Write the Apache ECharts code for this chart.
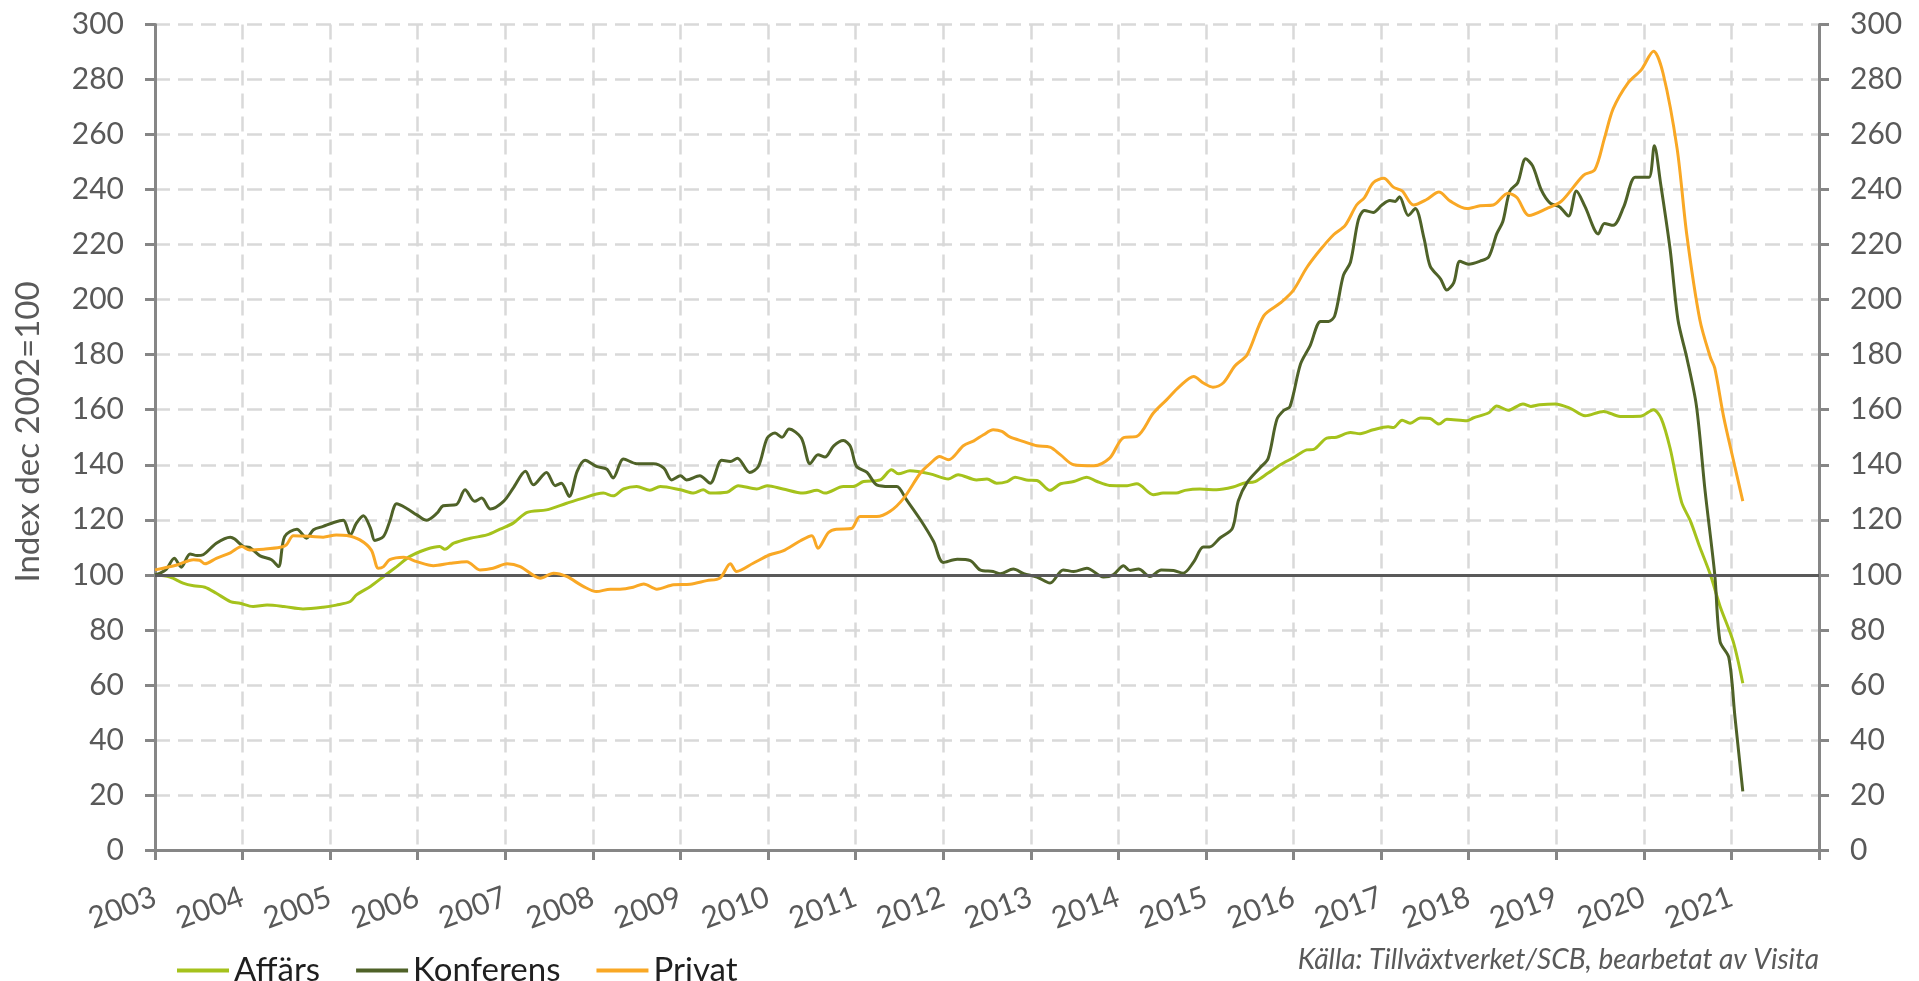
<!DOCTYPE html>
<html>
<head>
<meta charset="utf-8">
<script src="https://cdn.jsdelivr.net/npm/echarts@6/dist/echarts.min.js"></script>
<style>
html,body{margin:0;padding:0;background:#fff;}
#chart{width:1919px;height:981px;}
</style>
</head>
<body>
<div id="chart"></div>
<script>
// [year, index value] pairs
const affars = [
[2003.00,100],[2003.17,99.2],[2003.32,97],[2003.44,96],[2003.57,95.5],[2003.70,93.3],[2003.86,90.3],[2003.97,89.7],
[2004.12,88.5],[2004.28,89],[2004.47,88.5],[2004.69,87.6],[2004.92,88.2],[2005.07,89],[2005.23,90.3],[2005.30,92.7],
[2005.46,95.8],[2005.61,99.4],[2005.76,103],[2005.91,106.7],[2006.10,109.3],[2006.25,110.3],[2006.31,109.3],[2006.41,111.5],
[2006.60,113.3],[2006.79,114.5],[2006.94,116.6],[2007.09,118.8],[2007.25,122.7],[2007.47,123.6],[2007.70,126],[2007.85,127.5],
[2008.12,129.7],[2008.23,128.7],[2008.35,131.2],[2008.50,132.1],[2008.65,130.7],[2008.77,132.1],[2009.00,130.9],[2009.15,129.7],
[2009.26,130.9],[2009.34,129.7],[2009.53,130],[2009.66,132.4],[2009.87,131.2],[2009.99,132.4],[2010.17,131.2],[2010.40,129.7],
[2010.56,130.7],[2010.65,129.7],[2010.86,132.1],[2010.97,132.1],[2011.09,133.9],[2011.28,134.5],[2011.41,138.2],[2011.49,136.7],
[2011.62,137.8],[2011.85,136.7],[2012.06,134.8],[2012.17,136.4],[2012.38,134.5],[2012.50,134.8],[2012.61,133.3],[2012.73,133.9],
[2012.82,135.5],[2012.95,134.5],[2013.07,134.3],[2013.22,130.7],[2013.34,133.1],[2013.49,133.9],[2013.64,135.5],[2013.75,134],
[2013.90,132.5],[2014.10,132.4],[2014.21,133.1],[2014.40,129.1],[2014.51,129.7],[2014.66,129.7],[2014.76,130.7],[2014.93,131.2],
[2015.12,130.9],[2015.31,131.9],[2015.43,133.3],[2015.56,133.9],[2015.71,137],[2015.85,140],[2016.00,142.6],[2016.15,145.4],
[2016.23,145.6],[2016.38,149.7],[2016.49,150],[2016.65,151.7],[2016.76,151.3],[2016.91,152.7],[2017.08,153.8],[2017.14,153.5],
[2017.24,156.2],[2017.33,155.1],[2017.45,157],[2017.56,156.8],[2017.66,154.8],[2017.75,156.5],[2017.98,156],[2018.05,157],
[2018.23,158.9],[2018.32,161.4],[2018.45,159.8],[2018.62,162.1],[2018.71,161.2],[2018.81,161.8],[2018.99,162.1],[2019.16,160.5],
[2019.33,157.8],[2019.54,159.4],[2019.73,157.5],[2019.96,157.6],[2020.11,160],[2020.20,156.7],[2020.30,146],[2020.43,126.5],
[2020.53,119.7],[2020.64,110],[2020.76,100],[2020.87,88.6],[2021.02,75.8],[2021.13,60.6]
];
const konferens = [
[2003.00,100],[2003.06,100.6],[2003.13,102],[2003.22,106],[2003.30,102.8],[2003.40,107.6],[2003.48,107],[2003.55,107.3],
[2003.70,111.5],[2003.86,113.7],[2003.91,113],[2004.01,110.3],[2004.08,110],[2004.20,106.9],[2004.33,105.5],[2004.41,103],
[2004.48,113.9],[2004.62,116.6],[2004.73,113.3],[2004.81,116.4],[2004.92,117.6],[2005.04,119],[2005.15,119.8],[2005.23,114.5],
[2005.30,118.8],[2005.38,121.5],[2005.46,117],[2005.51,112.5],[2005.61,114],[2005.68,119.4],[2005.76,125.8],[2005.87,124.2],
[2005.99,121.8],[2006.10,119.8],[2006.22,122.4],[2006.29,125.1],[2006.44,125.5],[2006.54,130.9],[2006.65,126.7],[2006.73,127.9],
[2006.83,123.9],[2006.98,126.7],[2007.09,131.5],[2007.23,137.6],[2007.32,132.7],[2007.47,137.2],[2007.57,132.4],[2007.64,133.3],
[2007.73,128.5],[2007.82,137.6],[2007.91,141.6],[2008.04,139.4],[2008.16,138.4],[2008.23,135.2],[2008.35,142.1],[2008.50,140.4],
[2008.69,140.4],[2008.81,138.8],[2008.90,134.5],[2009.00,136],[2009.07,134.5],[2009.22,136],[2009.34,133.3],[2009.47,141.6],
[2009.57,141.2],[2009.65,142.4],[2009.79,137.2],[2009.89,139.4],[2009.99,149.7],[2010.08,151.5],[2010.16,150],[2010.24,153],
[2010.38,149.7],[2010.48,140.4],[2010.57,143.6],[2010.65,142.8],[2010.75,146.9],[2010.86,148.8],[2010.94,146.7],[2011.01,139.4],
[2011.13,137.2],[2011.24,132.7],[2011.39,132.1],[2011.47,132.1],[2011.58,127.3],[2011.74,120],[2011.89,112.1],[2012.00,104.5],
[2012.16,105.7],[2012.31,105.2],[2012.42,101.8],[2012.57,101.2],[2012.65,100.4],[2012.80,102.1],[2012.92,100.4],[2013.07,99.2],
[2013.22,97],[2013.37,101.8],[2013.49,101.2],[2013.64,102.4],[2013.83,99.2],[2013.94,100],[2014.06,103.3],[2014.13,101.6],
[2014.23,102.1],[2014.36,99.4],[2014.49,101.8],[2014.63,101.6],[2014.74,100.6],[2014.86,104.7],[2014.97,110.1],[2015.04,110.1],
[2015.16,113.4],[2015.30,116.8],[2015.37,126.9],[2015.47,133.6],[2015.62,139],[2015.71,142.3],[2015.81,156.5],[2015.89,159.8],
[2015.96,161.2],[2016.08,176.6],[2016.19,183.3],[2016.31,192.1],[2016.40,192.1],[2016.47,194.1],[2016.57,208.9],[2016.65,213.6],
[2016.74,229],[2016.81,232.4],[2016.91,231.7],[2017.01,234.4],[2017.10,236],[2017.16,235.7],[2017.21,237.4],[2017.31,230.6],
[2017.39,233.1],[2017.49,222.3],[2017.56,212.2],[2017.68,207.5],[2017.75,203.5],[2017.83,206.2],[2017.90,214],[2018.00,212.9],
[2018.13,214],[2018.23,215.6],[2018.32,223.9],[2018.39,228.4],[2018.47,239.5],[2018.56,242.5],[2018.65,251.2],[2018.73,248.6],
[2018.83,239.8],[2018.93,235.1],[2019.04,233.7],[2019.14,230.4],[2019.23,239.5],[2019.33,233.7],[2019.48,223.9],[2019.55,227.7],
[2019.65,227],[2019.77,233.7],[2019.90,244.5],[2019.98,244.5],[2020.06,244.5],[2020.12,255.9],[2020.19,242.5],[2020.30,218.3],
[2020.39,192.6],[2020.49,179],[2020.60,161.5],[2020.70,130.3],[2020.81,100],[2020.87,75.8],[2020.97,70],[2021.04,48.5],[2021.13,21.3]
];
const privat = [
[2003.00,101.8],[2003.25,103.6],[2003.44,105.5],[2003.51,105.3],[2003.57,104],[2003.70,106],[2003.86,108],[2003.99,110.3],
[2004.08,109],[2004.24,109.3],[2004.43,110],[2004.50,110.9],[2004.58,114.2],[2004.77,114],[2004.92,113.7],[2005.07,114.5],
[2005.19,114.3],[2005.34,112.7],[2005.47,109],[2005.55,102.4],[2005.61,103],[2005.68,105.5],[2005.84,106.4],[2005.99,104.8],
[2006.18,103.3],[2006.37,104.2],[2006.56,104.8],[2006.71,101.8],[2006.86,102.4],[2007.02,104],[2007.17,103],[2007.40,98.8],
[2007.55,100.6],[2007.70,99.4],[2007.89,95.8],[2008.04,93.9],[2008.20,94.8],[2008.31,94.8],[2008.46,95.5],[2008.58,96.7],
[2008.73,94.8],[2008.92,96.4],[2009.11,96.6],[2009.30,97.9],[2009.45,98.8],[2009.57,104],[2009.64,101.2],[2009.83,104.2],
[2010.02,107.3],[2010.17,108.7],[2010.37,112.4],[2010.50,114.2],[2010.57,109.7],[2010.69,115.4],[2010.78,116.6],[2010.95,116.8],
[2011.05,121.2],[2011.24,121.2],[2011.39,123],[2011.55,127.9],[2011.74,137],[2011.85,140.4],[2011.96,143],[2012.06,141.8],
[2012.23,146.9],[2012.35,148.7],[2012.46,150.9],[2012.57,152.7],[2012.67,152.1],[2012.76,150.1],[2012.92,148.4],[2013.07,146.9],
[2013.22,146.4],[2013.34,143.6],[2013.49,140],[2013.72,139.6],[2013.90,142.4],[2014.06,149.9],[2014.21,150.3],[2014.40,158.8],
[2014.55,163.6],[2014.70,168.5],[2014.86,172.1],[2014.97,169.7],[2015.08,168.2],[2015.20,169.8],[2015.33,175.9],[2015.47,180],
[2015.66,194.1],[2015.85,198.8],[2016.00,203.5],[2016.15,211.6],[2016.31,218.3],[2016.46,223.7],[2016.59,227],[2016.72,234.4],
[2016.81,237.1],[2016.91,242.5],[2017.03,244.1],[2017.14,240.9],[2017.24,239.5],[2017.37,234.4],[2017.52,236.4],[2017.66,239.1],
[2017.79,235.8],[2017.98,233.1],[2018.13,234.1],[2018.28,234.4],[2018.45,238.7],[2018.55,237.1],[2018.69,230.6],[2018.89,233.1],
[2019.06,235.8],[2019.31,245.2],[2019.44,247.2],[2019.55,258.6],[2019.65,269.4],[2019.82,278.8],[2019.97,283.5],[2020.11,290.3],
[2020.22,282.2],[2020.38,254.9],[2020.49,223.7],[2020.64,192.6],[2020.76,179],[2020.81,175.1],[2020.91,157.6],[2021.02,142],[2021.13,126.8]
];
const seriesNames = ['Affärs', 'Konferens', 'Privat'];
const seriesColors = ['#a5c21c', '#4f6228', '#f9a825'];
const yearLabels = ['2003','2004','2005','2006','2007','2008','2009','2010','2011','2012','2013','2014','2015','2016','2017','2018','2019','2020','2021'];
const baseline = 100;
const yAxisTitle = 'Index dec 2002=100';
const sourceText = 'Källa: Tillväxtverket/SCB, bearbetat av Visita';

const FONT = 'Lato';
const TXT = '#595959';
const GRID = {color: '#d9d9d9', width: 2.5, type: [15, 8]};
const chart = echarts.init(document.getElementById('chart'), null, {renderer: 'canvas'});

const yAxisCommon = {
  type: 'value', min: 0, max: 300, interval: 20,
  axisLine: {show: true, lineStyle: {color: '#868686', width: 3}},
  axisTick: {show: true, length: 10, lineStyle: {color: '#868686', width: 3}},
  axisLabel: {color: TXT, fontFamily: FONT, fontSize: 30, margin: 31},
};

const datasets = [affars, konferens, privat];
const series = datasets.map((d, i) => ({
  name: seriesNames[i], type: 'line', data: d, symbol: 'none', smooth: 0.3,
  lineStyle: {color: seriesColors[i], width: 3}, itemStyle: {color: seriesColors[i]},
  z: 3 + i
}));
series.push({
  name: 'base', type: 'line', data: [], symbol: 'none',
  markLine: {silent: true, symbol: 'none', label: {show: false},
    lineStyle: {color: '#595959', width: 3, type: 'solid'}, data: [{yAxis: baseline}]},
  z: 2
});

chart.setOption({
  animation: false,
  grid: {left: 155, right: 100, top: 24.5, bottom: 131},
  legend: {
    data: seriesNames, left: 172, top: 949, icon: 'rect', itemWidth: 52, itemHeight: 4, itemGap: 36,
    textStyle: {color: '#1f1f1f', fontFamily: FONT, fontSize: 33}
  },
  xAxis: {
    type: 'value', min: 2003, max: 2022, interval: 1,
    axisLine: {show: true, onZero: false, lineStyle: {color: '#868686', width: 3}},
    axisTick: {show: true, length: 10, lineStyle: {color: '#868686', width: 3}},
    axisLabel: {color: TXT, fontFamily: FONT, fontSize: 30, rotate: 20, margin: 46,
      formatter: v => { const s = String(Math.round(v)); return yearLabels.indexOf(s) >= 0 ? s : ''; }},
    splitLine: {show: true, lineStyle: GRID}
  },
  yAxis: [
    Object.assign({}, yAxisCommon, {position: 'left', splitLine: {show: true, lineStyle: GRID}}),
    Object.assign({}, yAxisCommon, {position: 'right', splitLine: {show: false}})
  ],
  graphic: [
    {type: 'text', x: 28, y: 432, rotation: Math.PI / 2,
     style: {text: yAxisTitle, fill: TXT, font: '33px Lato', textAlign: 'center', textVerticalAlign: 'middle'}},
    {type: 'text', x: 1819, y: 960,
     style: {text: sourceText, fill: TXT, font: 'italic 28px Lato', textAlign: 'right', textVerticalAlign: 'middle'}}
  ],
  series: series
});
</script>
</body>
</html>
